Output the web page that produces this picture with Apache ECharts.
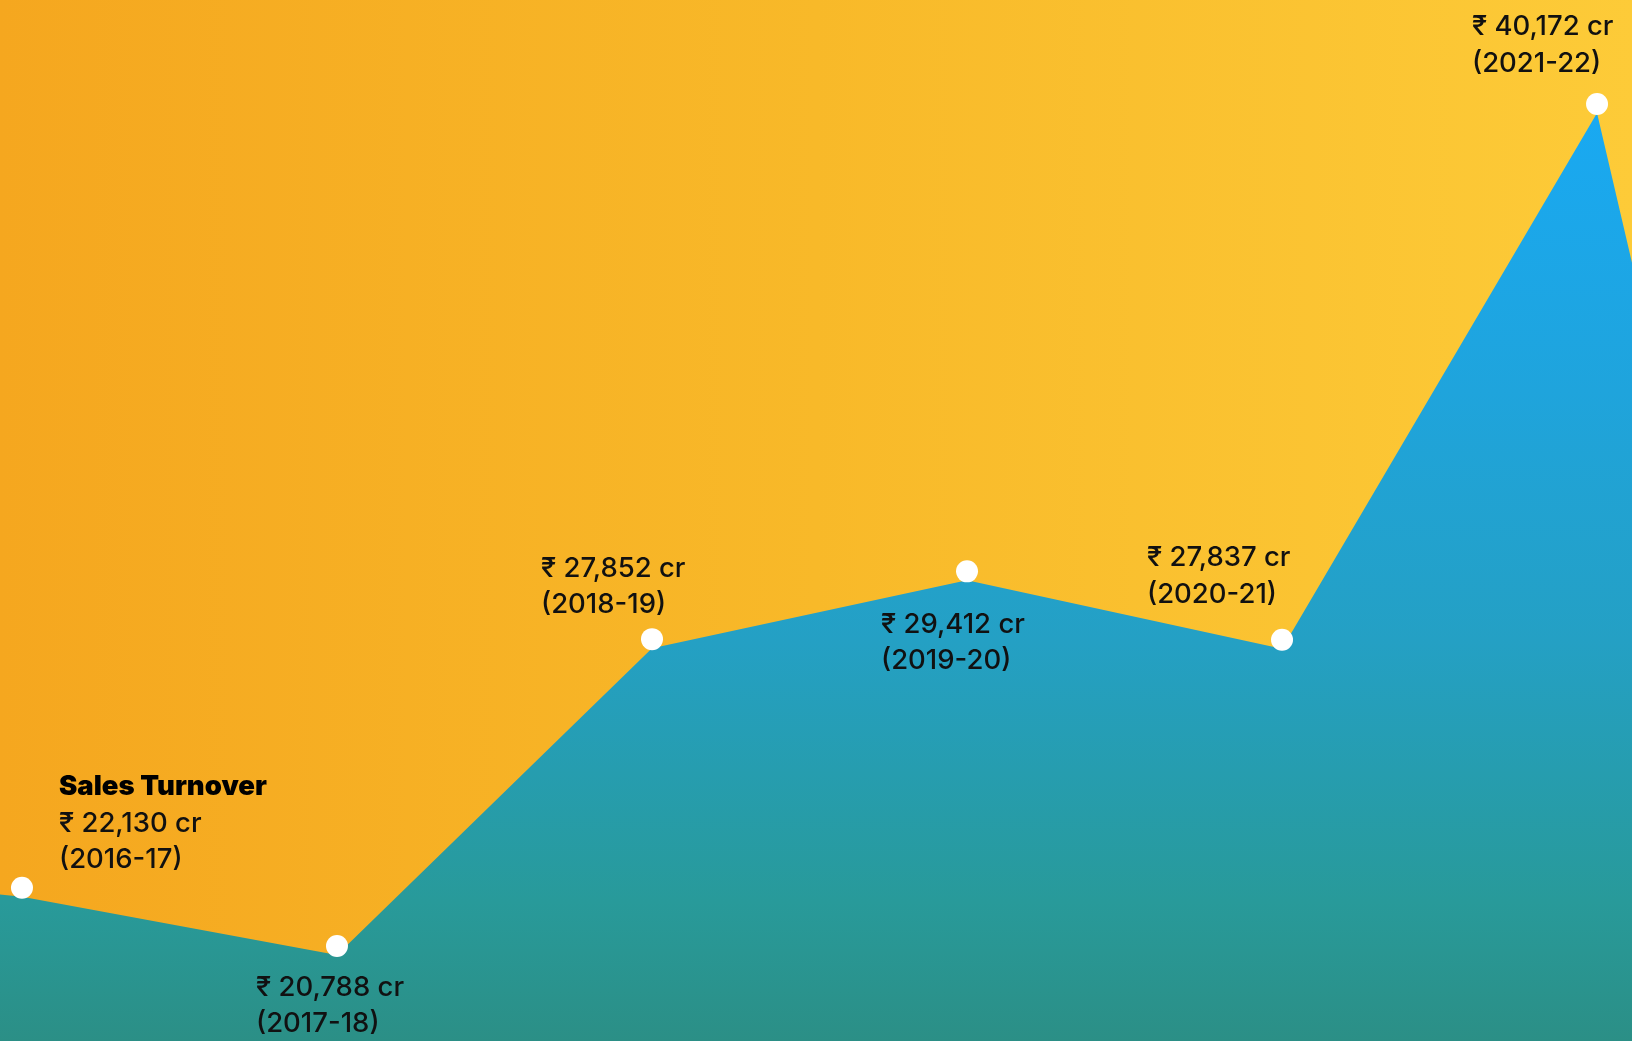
<!DOCTYPE html>
<html>
<head>
<meta charset="utf-8">
<style>
  html, body { margin: 0; padding: 0; width: 100%; height: 100%; overflow: hidden; }
  #chart { width: 1632px; height: 1041px; }
</style>
<script src="https://cdn.jsdelivr.net/npm/echarts@6/dist/echarts.min.js"></script>
</head>
<body>
<div id="chart"></div>
<script>
// ---- data ----
const years = ['2016-17', '2017-18', '2018-19', '2019-20', '2020-21', '2021-22'];
const turnover = [22130, 20788, 27852, 29412, 27837, 40172];   // ₹ crore
const seriesTitle = 'Sales Turnover';
// the visible line continues past both edges of the picture
const leadInValue = 22850;
const leadOutValue = 9100;

// ---- layout / style (not data) ----
const labelOffsets = [[37, -119], [-81, 23], [-111, -89], [-86, 35], [-135, -100], [-125, -95]];
const FONT = 'Inter, "Noto Sans", sans-serif';

const fmt = v => '₹ ' + v.toLocaleString('en-US') + ' cr';

const points = [{ value: [-1, leadInValue], symbol: 'none', label: { show: false } }];
turnover.forEach((v, i) => {
  const text = (i === 0 ? '{t|' + seriesTitle + '}\n' : '') + '{n|' + fmt(v) + '}\n{n|(' + years[i] + ')}';
  points.push({
    value: [i, v],
    label: {
      show: true,
      position: 'inside',
      align: 'left',
      verticalAlign: 'top',
      offset: labelOffsets[i],
      formatter: text
    }
  });
});
points.push({ value: [years.length, leadOutValue], symbol: 'none', label: { show: false } });

const chart = echarts.init(document.getElementById('chart'), null, { renderer: 'canvas' });
chart.setOption({
  animation: false,
  backgroundColor: {
    type: 'linear', x: 0, y: 0, x2: 1, y2: 0,
    colorStops: [
      { offset: 0, color: '#F5A71F' },
      { offset: 0.5, color: '#F8B929' },
      { offset: 1, color: '#FDCB38' }
    ]
  },
  grid: { left: 0, right: 0, top: 0, bottom: 0, containLabel: false },
  xAxis: { type: 'value', min: -0.0698, max: 5.111, show: false },
  yAxis: { type: 'value', min: 18808, max: 42772, show: false },
  series: [{
    type: 'line',
    data: points,
    clip: true,
    symbol: 'circle',
    symbolSize: 22,
    symbolOffset: [0, -9],
    showAllSymbol: true,
    itemStyle: { color: '#FFFFFF', borderWidth: 0 },
    lineStyle: { width: 0, opacity: 0 },
    areaStyle: {
      opacity: 1,
      color: {
        type: 'linear', x: 0, y: 113, x2: 0, y2: 1041, global: true,
        colorStops: [
          { offset: 0, color: '#19A9F2' },
          { offset: 0.3, color: '#1FA4DC' },
          { offset: 0.57, color: '#24A0C4' },
          { offset: 0.85, color: '#289A9A' },
          { offset: 1, color: '#2B8F86' }
        ]
      }
    },
    label: {
      color: '#111111',
      fontFamily: FONT,
      rich: {
        t: { fontFamily: FONT, fontSize: 27.5, fontWeight: 900, color: '#000000', lineHeight: 36.5 },
        n: { fontFamily: FONT, fontSize: 27.5, fontWeight: 500, color: '#111111', lineHeight: 36.5 }
      }
    },
    emphasis: { disabled: true }
  }]
});
</script>
</body>
</html>
